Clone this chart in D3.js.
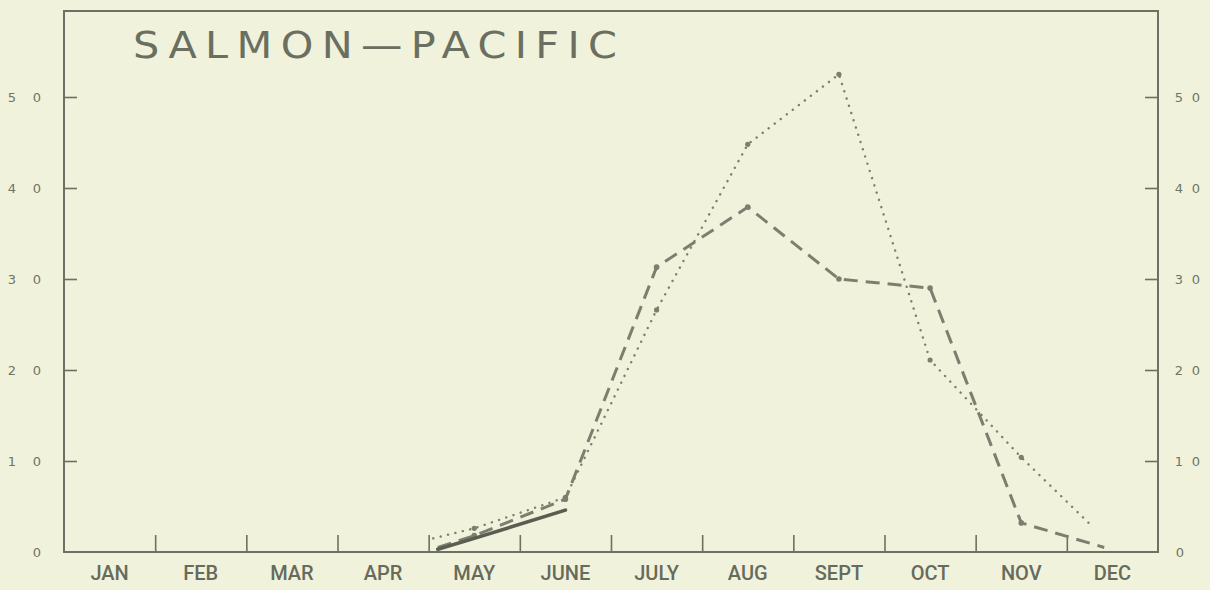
<!DOCTYPE html>
<html>
<head>
<meta charset="utf-8">
<script src="https://cdn.jsdelivr.net/npm/d3@7"></script>
<style>
  html, body { margin: 0; padding: 0; background: #f1f2dc; }
  svg { display: block; }
</style>
</head>
<body>
<script>
// ---------- DATA ----------
const months = ["JAN","FEB","MAR","APR","MAY","JUNE","JULY","AUG","SEPT","OCT","NOV","DEC"];
const yTicks = [0, 10, 20, 30, 40, 50];
const titleText = "SALMON\u2014PACIFIC";

// x positions are in month units (0 = start of JAN, 0.5 = mid JAN ... 12 = end of DEC)
const dashedX = [4.1, 4.5, 5.5, 6.5, 7.5, 8.5, 9.5, 10.5, 11.41];
const dashedY = [0.5, 1.8, 5.8, 31.3, 37.9, 30.0, 29.0, 3.2, 0.5];

const dottedX = [4.05, 4.5, 5.5, 6.5, 7.5, 8.5, 9.5, 10.5, 11.27];
const dottedY = [1.5, 2.6, 6.0, 26.6, 44.8, 52.5, 21.1, 10.4, 2.9];

const solidX = [4.1, 4.5, 5.5];
const solidY = [0.3, 1.5, 4.6];

// ---------- LAYOUT ----------
const W = 1210, H = 590;
const pL = 64, pR = 1158, pB = 552, pT = 11;
const ink = "#6c7163";
const lineInk = "#7a7f6f";

const svg = d3.select("body").append("svg").attr("width", W).attr("height", H);
svg.append("rect").attr("width", W).attr("height", H).attr("fill", "#f1f2dc");

const x = d3.scaleLinear().domain([0, 12]).range([pL, pR]);
const xb = d3.scaleBand().domain(months).range([pL, pR]);
const y = d3.scaleLinear().domain([0, 50]).range([pB, 97]);

// frame
svg.append("path")
  .attr("d", `M${pL},${pT}H${pR}V${pB}H${pL}Z`)
  .attr("fill", "none").attr("stroke", ink).attr("stroke-width", 2);

// left axis ticks (inward)
const gL = svg.append("g").attr("transform", `translate(${pL},0)`)
  .call(d3.axisLeft(y).tickValues(yTicks.filter(d => d > 0)).tickSize(-13).tickFormat(""));
gL.select(".domain").remove();
gL.selectAll("line").attr("stroke", ink).attr("stroke-width", 1.6);

// right axis ticks (inward)
const gR = svg.append("g").attr("transform", `translate(${pR},0)`)
  .call(d3.axisRight(y).tickValues(yTicks.filter(d => d > 0)).tickSize(-13).tickFormat(""));
gR.select(".domain").remove();
gR.selectAll("line").attr("stroke", ink).attr("stroke-width", 1.6);

// y labels with spaced digits
function digitLabel(g, v, side) {
  const s = String(v);
  const t = g.append("text")
    .attr("y", y(v)).attr("dy", "0.36em")
    .attr("fill", "#6f7464")
    .style("font-family", "'DejaVu Sans', sans-serif")
    .style("font-size", "13px");
  if (side === "left") {
    const units = s[s.length - 1];
    t.append("tspan").attr("x", 37).attr("text-anchor", "middle").text(units);
    if (s.length > 1) t.append("tspan").attr("x", 12).attr("text-anchor", "middle").text(s[0]);
  } else {
    if (s.length > 1) {
      t.append("tspan").attr("x", 1179).attr("text-anchor", "middle").text(s[0]);
      t.append("tspan").attr("x", 1196).attr("text-anchor", "middle").text(s[1]);
    } else {
      t.append("tspan").attr("x", 1180).attr("text-anchor", "middle").text(s);
    }
  }
}
const labL = svg.append("g"), labR = svg.append("g");
yTicks.forEach(v => { digitLabel(labL, v, "left"); digitLabel(labR, v, "right"); });

// month boundary ticks
const gX = svg.append("g").attr("transform", `translate(0,${pB})`)
  .call(d3.axisBottom(x).tickValues(d3.range(1, 12)).tickSize(-17).tickFormat(""));
gX.select(".domain").remove();
gX.selectAll("line").attr("stroke", ink).attr("stroke-width", 1.6);

// month labels
svg.append("g").selectAll("text").data(months).join("text")
  .attr("x", d => xb(d) + xb.bandwidth() / 2)
  .attr("y", 580)
  .attr("text-anchor", "middle")
  .attr("fill", "#666b5c")
  .style("font-family", "Roboto, sans-serif")
  .style("font-weight", 500)
  .style("font-size", "20px")
  .text(d => d);

// title (glyphs widened slightly, spacing fills the rest)
const sx = 1.12;
svg.append("g").attr("transform", `scale(${sx},1)`)
  .append("text")
  .attr("x", 133 / sx).attr("y", 58)
  .attr("textLength", 484 / sx).attr("lengthAdjust", "spacing")
  .attr("fill", "#6a6f60")
  .style("font-family", "'DejaVu Sans', sans-serif")
  .style("font-weight", 400)
  .style("font-size", "37px")
  .text(titleText);

// series
const line = d3.line().x(d => x(d[0])).y(d => y(d[1]));
const dashed = d3.zip(dashedX, dashedY);
const dotted = d3.zip(dottedX, dottedY);
const solid = d3.zip(solidX, solidY);

svg.append("path").datum(dotted).attr("d", line)
  .attr("fill", "none").attr("stroke", lineInk).attr("stroke-width", 2.4)
  .attr("stroke-linecap", "round").attr("stroke-dasharray", "0.1 7.5");
svg.append("g").selectAll("circle").data(dotted.slice(1, -1)).join("circle")
  .attr("cx", d => x(d[0])).attr("cy", d => y(d[1])).attr("r", 2.6).attr("fill", lineInk);

svg.append("path").datum(dashed).attr("d", line)
  .attr("fill", "none").attr("stroke", lineInk).attr("stroke-width", 3)
  .attr("stroke-dasharray", "14 8");
svg.append("g").selectAll("circle").data(dashed.slice(1, -1)).join("circle")
  .attr("cx", d => x(d[0])).attr("cy", d => y(d[1])).attr("r", 2.8).attr("fill", lineInk);

svg.append("path").datum(solid).attr("d", line)
  .attr("fill", "none").attr("stroke", "#5a5d4f").attr("stroke-width", 3.6)
  .attr("stroke-linecap", "round");
</script>
</body>
</html>
